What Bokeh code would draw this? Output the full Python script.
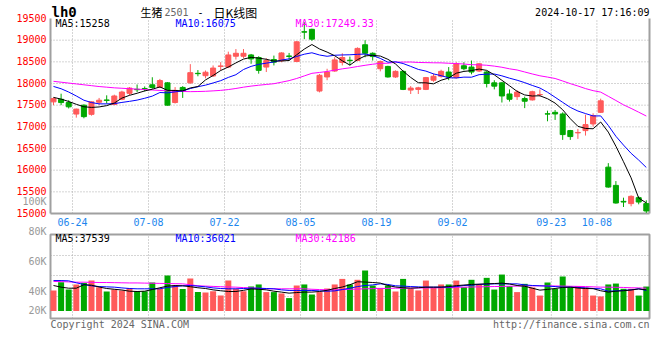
from bokeh.plotting import figure
from bokeh.models import Range1d, Label, ColumnDataSource
from bokeh.core.properties import value
from bokeh.embed import file_html
from bokeh.resources import INLINE

# ---------------- data ----------------
dates = ["06-20", "06-21",
         "06-24", "06-25", "06-26", "06-27", "06-28",
         "07-01", "07-02", "07-03", "07-04", "07-05",
         "07-08", "07-09", "07-10", "07-11", "07-12",
         "07-15", "07-16", "07-17", "07-18", "07-19",
         "07-22", "07-23", "07-24", "07-25", "07-26",
         "07-29", "07-30", "07-31", "08-01", "08-02",
         "08-05", "08-06", "08-07", "08-08", "08-09",
         "08-12", "08-13", "08-14", "08-15", "08-16",
         "08-19", "08-20", "08-21", "08-22", "08-23",
         "08-26", "08-27", "08-28", "08-29", "08-30",
         "09-02", "09-03", "09-04", "09-05", "09-06",
         "09-09", "09-10", "09-11", "09-12", "09-13",
         "09-18", "09-19", "09-20",
         "09-23", "09-24", "09-25", "09-26", "09-27",
         "09-30",
         "10-08", "10-09", "10-10", "10-11",
         "10-14", "10-15", "10-16", "10-17"]

tick_dates = ["06-24", "07-08", "07-22", "08-05", "08-19", "09-02", "09-23", "10-08"]
price_ticks = [15000, 15500, 16000, 16500, 17000, 17500, 18000, 18500, 19000, 19500]

opens = [17576, 17636, 17560, 17295, 17500, 17288, 17568, 17620, 17515, 17636,
         17773, 17866, 17886, 17970, 17909, 18015, 17561, 17909, 18015, 18235,
         18180, 18174, 18395, 18379, 18629, 18629, 18659, 18600, 18379, 18553,
         18523, 18635, 18508, 19195, 19250, 17826, 18151, 18288, 18484, 18537,
         18530, 18894, 18697, 18341, 18394, 18151, 18280, 17848, 17864, 17864,
         18076, 18167, 18265, 18136, 18409, 18379, 18288, 18265, 18015, 18015,
         17758, 17697, 17652, 17621, 17742, 17300, 17335, 17297, 16913, 16860,
         16913, 17067, 17335, 16070, 15649, 15280, 15228, 15366, 15228]
highs = [17680, 17765, 17614, 17420, 17515, 17591, 17667, 17727, 17742, 17833,
         17917, 17977, 17932, 18144, 18106, 18030, 17917, 17939, 18447, 18310,
         18300, 18417, 18492, 18735, 18795, 18795, 18682, 18629, 18583, 18644,
         18720, 18705, 18977, 19417, 19265, 18220, 18340, 18606, 18697, 18620,
         18833, 19000, 18720, 18530, 18409, 18303, 18303, 17940, 17924, 18151,
         18227, 18318, 18379, 18492, 18492, 18530, 18470, 18288, 18076, 18030,
         17864, 17848, 17697, 17833, 17864, 17373, 17388, 17335, 16929, 16952,
         17281, 17312, 17650, 16162, 15748, 15365, 15419, 15396, 15304]
lows = [17500, 17500, 17424, 17212, 17197, 17258, 17500, 17538, 17500, 17614,
        17727, 17803, 17818, 17879, 17894, 17490, 17538, 17667, 17992, 18167,
        18120, 18151, 18303, 18356, 18553, 18583, 18455, 18227, 18265, 18417,
        18492, 18530, 18492, 19023, 18985, 17795, 18076, 18270, 18417, 18417,
        18515, 18606, 18530, 18280, 18136, 18129, 17848, 17758, 17758, 17848,
        18038, 18136, 18076, 18114, 18303, 18212, 18265, 17909, 17864, 17561,
        17583, 17621, 17432, 17606, 17697, 17128, 17159, 16699, 16699, 16722,
        16798, 17005, 17320, 15595, 15227, 15150, 15166, 15212, 15013]
closes = [17651, 17560, 17462, 17409, 17235, 17576, 17614, 17610, 17712, 17803,
          17894, 17856, 17878, 17909, 18068, 17500, 17841, 17833, 18250, 18227,
          18260, 18356, 18405, 18659, 18697, 18697, 18568, 18303, 18530, 18492,
          18705, 18625, 18962, 19185, 19023, 18189, 18265, 18545, 18600, 18528,
          18810, 18697, 18621, 18508, 18151, 18280, 17864, 17894, 17900, 18136,
          18167, 18280, 18151, 18455, 18341, 18265, 18455, 18000, 17939, 17712,
          17636, 17803, 17591, 17811, 17746, 17295, 17297, 16821, 16775, 16870,
          17051, 17258, 17600, 15610, 15242, 15265, 15396, 15265, 15058]

ma5 = [17680, 17640, 17585, 17520, 17463, 17448, 17459, 17489, 17549, 17663,
       17727, 17775, 17829, 17868, 17921, 17842, 17839, 17830, 17898, 17930,
       18082, 18185, 18300, 18381, 18475, 18563, 18605, 18585, 18559, 18518,
       18520, 18531, 18663, 18794, 18900, 18797, 18725, 18641, 18524, 18425,
       18550, 18636, 18651, 18633, 18558, 18452, 18285, 18140, 18018, 18015,
       17992, 18075, 18127, 18238, 18279, 18298, 18333, 18303, 18200, 18074,
       17948, 17818, 17736, 17711, 17717, 17649, 17548, 17394, 17187, 17012,
       16963, 16955, 17111, 16878, 16552, 16195, 15823, 15356, 15245]
ma10 = [17932, 17879, 17803, 17712, 17614, 17560, 17530, 17530, 17535, 17563,
        17588, 17617, 17659, 17709, 17792, 17784, 17807, 17829, 17883, 17926,
        17962, 18012, 18065, 18140, 18203, 18323, 18395, 18442, 18470, 18497,
        18541, 18568, 18624, 18676, 18709, 18658, 18628, 18652, 18659, 18663,
        18673, 18680, 18646, 18579, 18492, 18501, 18461, 18395, 18325, 18286,
        18222, 18180, 18133, 18128, 18147, 18145, 18204, 18215, 18219, 18177,
        18123, 18076, 18020, 17955, 17896, 17799, 17683, 17565, 17449, 17365,
        17306, 17252, 17252, 17032, 16782, 16579, 16389, 16233, 16062]
ma30 = [18050, 18030, 18010, 17990, 17970, 17950, 17930, 17915, 17900, 17890,
        17880, 17870, 17860, 17850, 17840, 17830, 17822, 17816, 17812, 17815,
        17820, 17830, 17841, 17860, 17885, 17915, 17940, 17960, 17978, 17995,
        18030, 18066, 18116, 18175, 18235, 18255, 18277, 18308, 18338, 18362,
        18392, 18420, 18445, 18465, 18467, 18493, 18494, 18496, 18485, 18482,
        18478, 18476, 18467, 18461, 18449, 18434, 18431, 18421, 18401, 18375,
        18339, 18312, 18266, 18220, 18178, 18148, 18116, 18058, 17997, 17942,
        17883, 17835, 17801, 17705, 17608, 17508, 17425, 17338, 17249]

volume_k = [40.7, 46.2, 41.3, 44.7, 45.6, 47.3, 42.9, 40.0, 41.3, 40.7,
            42.4, 40.2, 40.2, 46.0, 41.8, 50.7, 43.8, 41.6, 48.7, 39.6,
            39.3, 40.2, 37.3, 47.3, 41.8, 40.2, 43.3, 44.7, 39.6, 39.6,
            38.7, 35.6, 44.0, 44.7, 38.0, 39.6, 42.0, 44.7, 48.4, 44.7,
            47.8, 54.0, 44.0, 42.4, 44.0, 40.0, 48.4, 41.8, 40.7, 47.3,
            42.7, 44.7, 44.7, 47.3, 42.9, 47.8, 44.7, 49.1, 41.3, 51.3,
            43.6, 39.6, 45.1, 42.7, 37.3, 46.0, 41.8, 50.0, 42.9, 43.6,
            42.7, 37.3, 36.7, 44.7, 45.3, 41.8, 41.8, 37.3, 43.3]
vol_ma5 = [44.0, 42.9, 42.2, 42.2, 44.5, 44.2, 43.0, 42.0, 41.5, 41.0,
           40.2, 40.0, 40.2, 41.3, 42.5, 43.6, 44.0, 43.8, 43.2, 42.5,
           42.0, 41.1, 40.5, 40.0, 40.0, 40.8, 41.7, 41.5, 41.1, 40.2,
           39.6, 38.9, 39.3, 39.6, 39.6, 40.0, 40.8, 42.0, 43.0, 44.5,
           46.5, 46.3, 46.0, 45.6, 44.0, 43.0, 42.5, 42.2, 42.5, 42.9,
           42.9, 42.9, 43.3, 43.9, 44.3, 44.7, 44.9, 45.1, 45.3, 45.6,
           45.0, 44.0, 43.5, 42.2, 40.9, 41.4, 42.0, 42.7, 42.9, 42.3,
           42.0, 41.9, 40.5, 39.6, 40.2, 40.5, 41.0, 41.7, 41.1]
vol_ma10 = [47.3, 47.3, 47.1, 45.8, 44.7, 43.8, 43.3, 43.1, 42.9, 42.4,
            42.0, 41.8, 41.8, 41.8, 41.8, 42.7, 43.3, 43.8, 44.0, 43.6,
            43.1, 42.4, 42.0, 41.8, 41.8, 42.0, 42.2, 42.2, 42.0, 41.8,
            41.1, 40.7, 40.7, 40.7, 40.7, 40.4, 40.2, 40.4, 41.3, 42.2,
            43.3, 44.0, 44.4, 45.1, 44.7, 43.8, 43.6, 43.3, 43.1, 42.9,
            42.9, 42.9, 42.9, 43.3, 44.0, 44.2, 44.7, 44.9, 45.1, 45.1,
            45.1, 45.1, 44.4, 44.0, 43.8, 43.6, 43.3, 42.9, 42.9, 42.7,
            42.4, 42.0, 41.8, 40.2, 40.4, 40.7, 41.1, 41.8, 40.7]
vol_ma30 = [46.7, 46.6, 46.4, 46.2, 46.2, 46.1, 46.0, 46.0, 45.9, 45.8,
            45.7, 45.7, 45.6, 45.5, 45.4, 45.3, 45.2, 45.1, 44.5, 43.8,
            43.6, 43.4, 43.2, 43.0, 42.9, 42.6, 42.4, 42.1, 41.8, 41.8,
            41.8, 41.8, 41.8, 41.8, 41.5, 41.3, 41.1, 41.1, 41.3, 41.5,
            41.6, 41.8, 41.9, 42.0, 42.1, 42.2, 42.2, 42.3, 42.3, 42.4,
            42.4, 42.5, 42.6, 42.8, 42.9, 43.0, 43.1, 43.2, 43.3, 43.4,
            43.5, 43.6, 43.7, 43.8, 43.8, 43.7, 43.7, 43.6, 43.5, 43.4,
            43.3, 43.1, 42.9, 42.9, 42.8, 42.7, 42.5, 42.4, 42.2]
vol_ticks = [20, 40, 60, 80, 100]
vol_tick_labels = ["20K", "40K", "60K", "80K", "100K"]

title_code = "lh0"
title_name = "生猪"
title_contract = "2501"
title_kind = "日K线图"
timestamp = "2024-10-17 17:16:09"
price_ma_labels = ["MA5:15258", "MA10:16075", "MA30:17249.33"]
vol_ma_labels = ["MA5:37539", "MA10:36021", "MA30:42186"]
footer_left = "Copyright 2024 SINA.COM"
footer_right = "http://finance.sina.com.cn"

# ---------------- style / geometry ----------------
W, H = 660, 360
RED = "#ff5a5a"
GREEN = "#00a800"
BORDER = "#a0a0a0"
GRIDC = "#aaaaaa"
MONO = "DejaVu Sans Mono"
CJK = "Noto Sans CJK SC"
MA_COLORS = ["#000000", "#0000ff", "#ff00ff"]
FS = "10px"

PX = 7.6                      # pixels per trading day
X0 = -0.3947                  # left edge of the price/volume panels, in day units
X1 = X0 + 599 / PX            # right edge
P_TOP, P_BOT = 19500, 15000   # price panel spans picture rows 18 .. 213
P_PER_PX = (P_TOP - P_BOT) / 195.0


def sx(xr):   # picture column -> day units
    return X0 + (xr - 50) / PX


def py(yr):   # picture row -> price
    return P_TOP - (yr - 18) * P_PER_PX


def vy(yr):   # picture row -> volume (K)
    return (351 - yr) / 1.5


V_TOP, V_BOT = vy(234), vy(318)   # volume panel box
V_FLOOR = vy(310.5)               # bars stand on this level

n = len(dates)
idx = list(range(n))
colors = [RED if c >= o else GREEN for o, c in zip(opens, closes)]
tops = [max(o, c) for o, c in zip(opens, closes)]
bottoms = [min(o, c) for o, c in zip(opens, closes)]
tick_pos = [dates.index(d) + 0.5 for d in tick_dates]
grid_prices = price_ticks[1:-1]

src = ColumnDataSource(dict(x=idx, h=highs, l=lows, top=tops, bottom=bottoms,
                            color=colors, vol=volume_k))

p = figure(width=W, height=H, x_range=Range1d(sx(0), sx(W)),
           y_range=Range1d(py(H), py(0)),
           x_axis_location=None, y_axis_location=None,
           toolbar_location=None, output_backend="svg",
           min_border_left=0, min_border_right=0, min_border_top=0, min_border_bottom=0,
           outline_line_color=None, background_fill_color="white",
           border_fill_color="white")
p.xgrid.visible = False
p.ygrid.visible = False
p.extra_y_ranges = {"vol": Range1d(vy(H), vy(0))}

# ---- grid lines (dotted) ----
p.segment(x0=tick_pos, y0=[P_BOT] * len(tick_pos), x1=tick_pos, y1=[P_TOP] * len(tick_pos),
          line_color=GRIDC, line_dash="1 2", line_width=1)
p.segment(x0=[X0] * len(grid_prices), y0=grid_prices, x1=[X1] * len(grid_prices), y1=grid_prices,
          line_color=GRIDC, line_dash="1 2", line_width=1)
p.segment(x0=tick_pos, y0=[V_BOT] * len(tick_pos), x1=tick_pos, y1=[V_TOP] * len(tick_pos),
          y_range_name="vol", line_color=GRIDC, line_dash="1 2", line_width=1)
vgrid = [vy(255), vy(275), vy(296)]
p.segment(x0=[X0] * 3, y0=vgrid, x1=[X1] * 3, y1=vgrid, y_range_name="vol",
          line_color=GRIDC, line_dash="1 2", line_width=1)

# ---- panel borders ----
p.segment(x0=[X0, X0, X1], y0=[P_TOP, P_BOT, P_TOP], x1=[X0, X1, X1], y1=[P_BOT, P_BOT, P_BOT],
          line_color=BORDER, line_width=2)
p.quad(left=X0, right=X1, bottom=V_BOT, top=V_TOP, y_range_name="vol",
       fill_color=None, line_color=BORDER, line_width=2)

# ---- candles ----
p.segment(x0="x", y0="l", x1="x", y1="h", color="color", line_width=1, source=src)
p.vbar(x="x", width=0.66, top="top", bottom="bottom", fill_color="color",
       line_color="color", line_width=1, source=src)
for vals, col in zip([ma30, ma10, ma5], MA_COLORS[::-1]):
    p.line(idx, vals, line_color=col, line_width=1)

# ---- volume ----
p.vbar(x="x", width=0.79, top="vol", bottom=V_FLOOR, fill_color="color",
       line_color=None, source=src, y_range_name="vol")
for vals, col in zip([vol_ma30, vol_ma10, vol_ma5], MA_COLORS[::-1]):
    p.line(idx, vals, line_color=col, line_width=1, y_range_name="vol")

# ---- tick labels ----
p.text(x=[sx(46)] * len(price_ticks), y=price_ticks, text=[str(t) for t in price_ticks],
       text_font=value(MONO), text_font_size=value(FS), text_color="#ff0000",
       text_align="right", text_baseline="middle", y_offset=-1)
p.text(x=tick_pos, y=[py(221)] * len(tick_pos), text=tick_dates,
       text_font=value(MONO), text_font_size=value(FS), text_color="#1c86ee",
       text_align="center", text_baseline="middle")
vol_label_y = [vy(310)] + vol_ticks[1:]   # the lowest label is pushed up into the box
p.text(x=[sx(46)] * len(vol_ticks), y=vol_label_y, text=vol_tick_labels, y_range_name="vol",
       text_font=value(MONO), text_font_size=value(FS), text_color="#999999",
       text_align="right", text_baseline="middle")

# ---- titles and legends ----
def lab(x, y, text, color="#000000", font=MONO, size=FS, align="left", style="normal",
        yname="default"):
    p.add_layout(Label(x=x, y=y, text=text, text_font=font, text_font_size=size,
                       text_color=color, text_align=align, text_baseline="middle",
                       text_font_style=style, y_range_name=yname))


ty = py(11.7)
lab(sx(51), ty, title_code, size="14px", style="bold")
lab(sx(140), ty, title_name, font=CJK, size="11px")
lab(sx(164), ty, title_contract, color="#666666")
lab(sx(197), ty, "-")
lab(sx(213), ty, title_kind, font=CJK, size="12px")
lab(sx(649), ty, timestamp, align="right")
for txt, xr, col in zip(price_ma_labels, [55, 175, 295], MA_COLORS):
    lab(sx(xr), py(22.5), txt, color=col)
for txt, xr, col in zip(vol_ma_labels, [55, 175, 295], MA_COLORS):
    lab(sx(xr), vy(238.3), txt, color=col, yname="vol")
lab(sx(50), vy(323.7), footer_left, color="#666666", yname="vol")
lab(sx(649), vy(323.7), footer_right, color="#666666", align="right", yname="vol")

open("out.html", "w").write(file_html(p, INLINE))
